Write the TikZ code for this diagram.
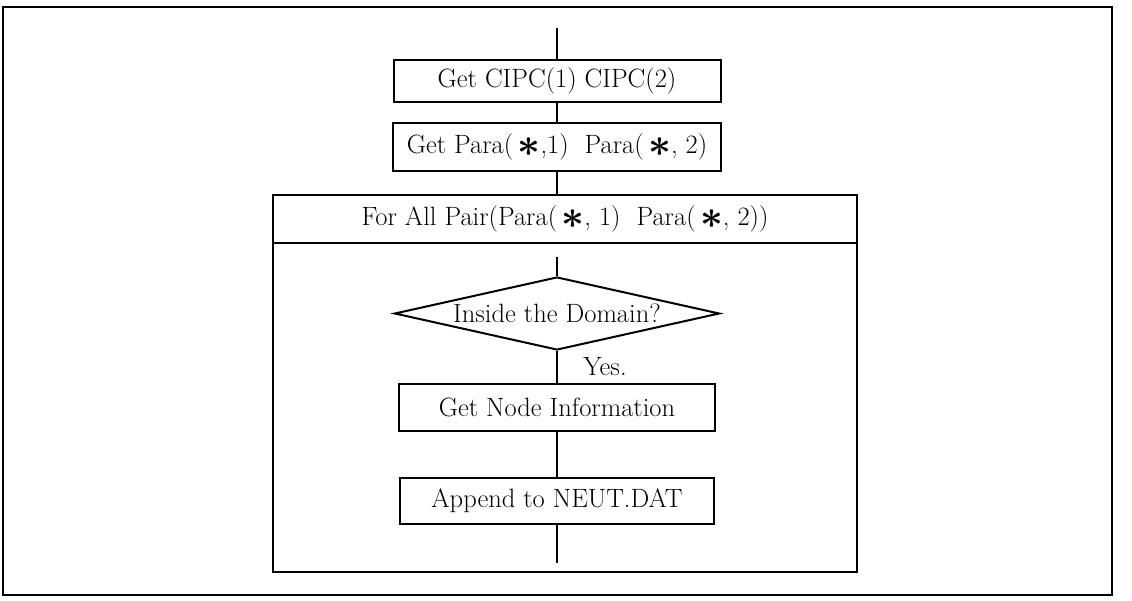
\documentclass[tikz,border=0pt]{standalone}
\usepackage{fontspec}
\usepackage{tikz}
\usetikzlibrary{shapes.geometric}
\tikzset{every picture/.style={line width=2pt}}
\newcommand{\bst}{$\vcenter{\hbox{\scalebox{1.6}{\boldmath$\ast$}}}$}
\tikzset{
  flowtext/.style={font=\fontsize{26.5}{30}\selectfont},
  procbox/.style={draw, rectangle, inner sep=0pt, flowtext},
  testbox/.style={draw, diamond, inner sep=0pt, aspect=4.45, minimum width=325pt, minimum height=73pt, flowtext},
  loopbox/.style={draw, rectangle, inner sep=0pt}
}

\begin{document}
\begin{tikzpicture}[x=1pt,y=1pt,yscale=-1]
\useasboundingbox (0,0) rectangle (1132,601);
\fill [white] (0,0) rectangle (1132,601);

%Shape: Rectangle [outer frame]
\draw [line width=2.5pt] (3,7) rectangle (1112,595);

% Entry point
\coordinate (entry) at (557,28);
%Shape: Rectangle
\node [procbox, minimum width=327pt, minimum height=42pt] (cipc) at (557,81) {Get CIPC(1) CIPC(2)};
%Shape: Rectangle
\node [procbox, minimum width=328pt, minimum height=48pt] (para) at (557,147) {Get Para(\,\bst,1)\ \ Para(\,\bst, 2)};
%Shape: Rectangle [loop body]
\node [loopbox, minimum width=584pt, minimum height=377pt] (loop) at (565,383.5) {};
%Shape: Rectangle [loop header]
\node [procbox, minimum width=584pt, minimum height=48pt] (forall) at (565,219) {For All Pair(Para(\,\bst, 1)\ \ Para(\,\bst, 2))};
\coordinate (inTop) at (557,257);
%Shape: Diamond
\node [testbox] (dom) at (557,313.5) {Inside the Domain?};
% Text Node
\node [flowtext, inner sep=0pt] (yes) at (605,367) {Yes.};
%Shape: Rectangle
\node [procbox, minimum width=316pt, minimum height=47pt] (info) at (557,407.5) {Get Node Information};
%Shape: Rectangle
\node [procbox, minimum width=314pt, minimum height=46pt] (app) at (557,501) {Append to NEUT.DAT};
\coordinate (exit) at (557,563);

%Straight Lines
\draw (entry) -- (cipc.north);
\draw (cipc.south) -- (para.north);
\draw (para.south) -- (para.south |- forall.north);
\draw (inTop) -- (dom.north);
\draw (dom.south) -- (info.north);
\draw (info.south) -- (app.north);
\draw (app.south) -- (exit);

\end{tikzpicture}
\end{document}
